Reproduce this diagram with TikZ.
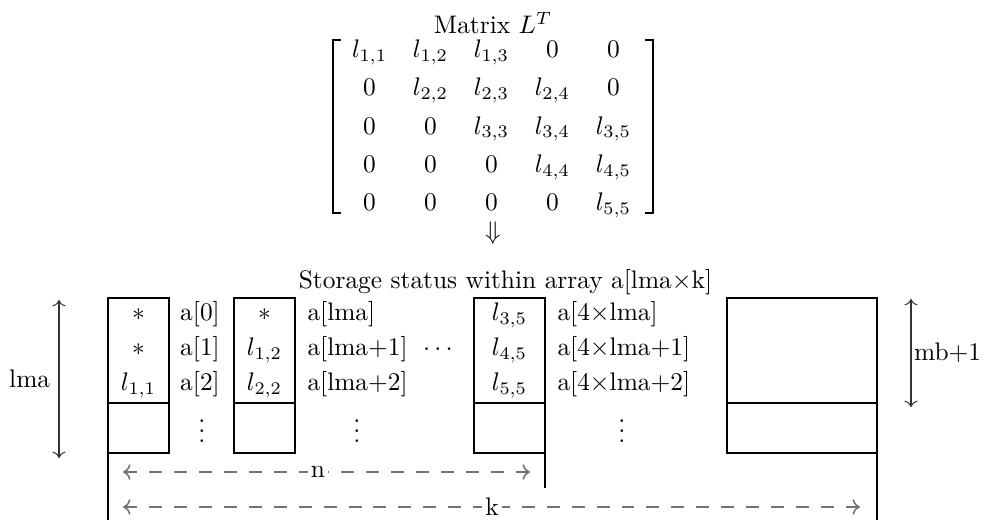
\documentclass[tikz,border=0pt]{standalone}
\usepackage{amsmath,amssymb}
\usetikzlibrary{arrows.meta,positioning,matrix}

\begin{document}
\begin{tikzpicture}[x=0.3937pt, y=-0.3937pt, >={To},
	   box/.style={line width=1.1pt},
	   lbl/.style={inner sep=0pt, text height=7.5pt, text depth=2.5pt},
	   vd/.style={anchor=base, inner sep=0pt, text height=9.5pt},
	   brk/.style={line width=0.8pt, line cap=rect},
	   dim/.style={line width=0.4pt, black!80},
	   dsh/.style={line width=0.6pt, black!55, dash pattern=on 5.1pt off 4.7pt}]
	  \useasboundingbox (0,0) rectangle (987,520);
	  % the matrix
	  \node (title) at (493,23) {Matrix $L^T$};
	  \matrix (LT) [matrix of math nodes, inner sep=0pt,
	     nodes={minimum width=24pt, minimum height=13.88pt, inner sep=0pt}] at (491.5,127.5) {
	    l_{1,1} & l_{1,2} & l_{1,3} & 0 & 0 \\
	    0 & l_{2,2} & l_{2,3} & l_{2,4} & 0 \\
	    0 & 0 & l_{3,3} & l_{3,4} & l_{3,5} \\
	    0 & 0 & 0 & l_{4,4} & l_{4,5} \\
	    0 & 0 & 0 & 0 & l_{5,5} \\
	  };
	  \draw[brk] (333,40) -- (333,213);
	  \draw[line width=0.45pt] (333,40) -- (341,40) (333,213) -- (341,213);
	  \draw[brk] (653,40) -- (653,213);
	  \draw[line width=0.45pt] (653,40) -- (645,40) (653,213) -- (645,213);
	  \node (down) at (493,233) {$\Downarrow$};
	  \node (cap) at (505.5,282) {Storage status within array a[lma$\times$k]};
	  % columns of the array
	  \draw[box] (108,520) -- (108,298) -| (169,453) -- (108,453);
	  \draw[box] (108,403) -- (169,403);
	  \draw[box] (234,298) rectangle (295,453) (234,403) -- (295,403);
	  \draw[box] (474,298) rectangle (545,453) (474,403) -- (545,403);
	  \draw[box] (545,453) -- (545,488);
	  \draw[box] (727,298) rectangle (877,453) (727,403) -- (877,403);
	  \draw[box] (877,453) -- (877,520);
	  % entries
	  \foreach \t [count=\i] in {\ast,\ast,l_{1,1}}
	    \node[lbl] (ca\i) at (138.5,{314.5+35*(\i-1)}) {$\t$};
	  \foreach \t [count=\i] in {\ast,l_{1,2},l_{2,2}}
	    \node[lbl] (cb\i) at (264.5,{314.5+35*(\i-1)}) {$\t$};
	  \foreach \t [count=\i] in {l_{3,5},l_{4,5},l_{5,5}}
	    \node[lbl] (cc\i) at (509.5,{314.5+35*(\i-1)}) {$\t$};
	  \foreach \t [count=\i] in {0,1,2}
	    \node[lbl] (ia\i) at (200,{314.5+35*(\i-1)}) {a[\t]};
	  \node[lbl, anchor=west] (ib1) at (307,314.5) {a[lma]};
	  \node[lbl, anchor=west] (ib2) at (307,349.5) {a[lma+1]};
	  \node[lbl, anchor=west] (ib3) at (307,384.5) {a[lma+2]};
	  \node[lbl, anchor=west] (ic1) at (557,314.5) {a[4$\times$lma]};
	  \node[lbl, anchor=west] (ic2) at (557,349.5) {a[4$\times$lma+1]};
	  \node[lbl, anchor=west] (ic3) at (557,384.5) {a[4$\times$lma+2]};
	  \node[lbl] (hdots) at (440,349.5) {$\cdots$};
	  \node[vd] (va) at (202,443) {$\vdots$};
	  \node[vd] (vb) at (357,443) {$\vdots$};
	  \node[vd] (vc) at (622,443) {$\vdots$};
	  % sizes
	  \coordinate (lmaT) at (59,300);
	  \coordinate (lmaB) at (59,458);
	  \draw[dim,<->] (lmaT) -- node[left, black, inner sep=3.3pt] (lma) {lma} (lmaB);
	  \coordinate (mbT) at (911,299);
	  \coordinate (mbB) at (911,407);
	  \draw[dim,<->] (mbT) -- node[right, black, inner sep=1pt] (mb) {mb+1} (mbB);
	  \coordinate (nL) at (123,472);
	  \coordinate (nR) at (530,472);
	  \node[inner sep=1pt] (n) at (318,472) {n};
	  \draw[dsh,<-] (nL) -- (n);
	  \draw[dsh,<-] (nR) -- (n);
	  \coordinate (kL) at (123,507);
	  \coordinate (kR) at (860,507);
	  \node[inner sep=1pt] (k) at (492,507) {k};
	  \draw[dsh,<-] (kL) -- (k);
	  \draw[dsh,<-] (kR) -- (k);
	\end{tikzpicture}
\end{document}
